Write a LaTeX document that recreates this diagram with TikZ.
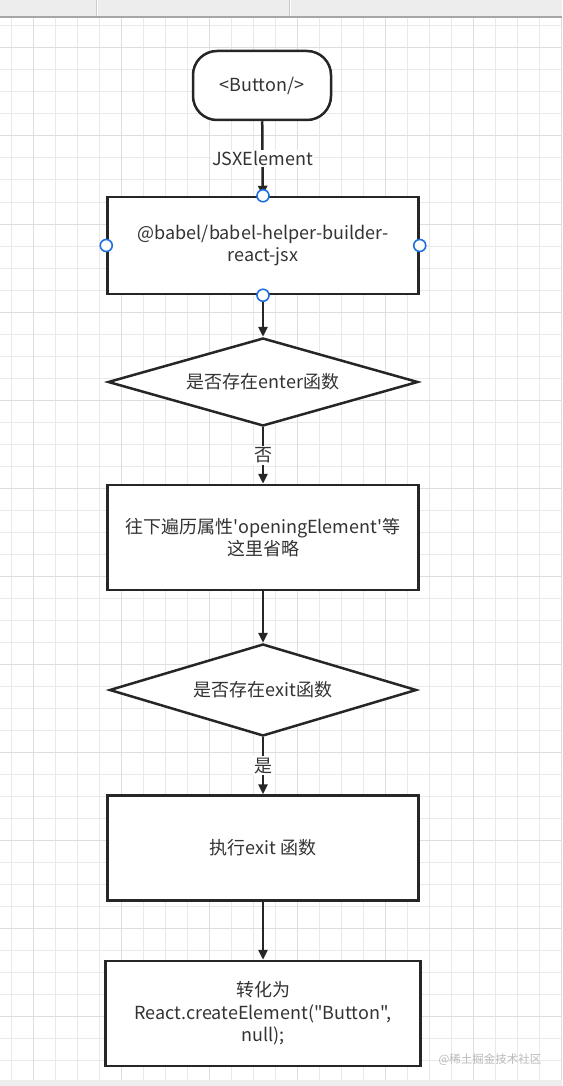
\documentclass[tikz,border=0pt]{standalone}
\usepackage{fontspec}
\setmainfont{Noto Sans CJK SC}[Ligatures=TeXOff]
\usepackage{xcolor}
\usetikzlibrary{shapes.geometric, positioning, arrows.meta}

\definecolor{ink}{HTML}{262626}
\definecolor{txt}{HTML}{333333}
\definecolor{gridln}{HTML}{E9E9E9}
\definecolor{gridmaj}{HTML}{DEDEDE}
\definecolor{bar}{HTML}{EDEDED}
\definecolor{handlec}{HTML}{1E6FE0}

\tikzset{
  base/.style={draw=ink, line width=2.5pt, fill=white, text=txt,
    font=\fontsize{18}{22.5}\selectfont, align=center},
  term/.style={base, rounded corners=24pt, minimum width=138pt, minimum height=69pt},
  proc/.style={base, minimum width=311pt, minimum height=105pt},
  cond/.style={base, diamond, aspect=3.5, minimum width=310pt, minimum height=88pt},
  lbl/.style={fill=white, text=txt, font=\fontsize{18}{20}\selectfont, inner sep=1.5pt},
  handle/.style={draw=handlec, fill=white, line width=1.6pt, circle,
    inner sep=0pt, minimum size=12pt},
}

\begin{document}
\begin{tikzpicture}[x=1pt,y=-1pt,->,>={Triangle[length=10pt,width=9pt]},line width=2.5pt,draw=ink]
    \useasboundingbox (0,0) rectangle (562,1086);

    % background grid and window bars
    \foreach \gx in {11,33,...,561} \draw[-,gridln,line width=1pt] (\gx,18) -- (\gx,1080);
    \foreach \gy in {26,48,...,1079} \draw[-,gridln,line width=1pt] (0,\gy) -- (562,\gy);
    \foreach \gx in {33,121,...,561} \draw[-,gridmaj,line width=1pt] (\gx,18) -- (\gx,1080);
    \foreach \gy in {48,136,...,1079} \draw[-,gridmaj,line width=1pt] (0,\gy) -- (562,\gy);
    \fill[bar] (0,0) rectangle (562,17);
    \draw[-,gray!70,line width=1.5pt] (0,17) -- (562,17);
    \draw[-,gray!40,line width=1pt] (96,0) -- (96,16) (289,0) -- (289,16);
    \draw[-,white,line width=1pt] (97.5,0) -- (97.5,16) (290.5,0) -- (290.5,16);
    \fill[bar] (0,1080) rectangle (562,1086);

    \node[term] (btn) at (262,85.5) {<Button/>};
    \node[proc, minimum height=97pt, node distance=160pt] (b1) [below of=btn, xshift=1pt] {@babel/babel-helper-builder-\\react-jsx};
    \node[cond, node distance=136.5pt] (d1) [below of=b1] {是否存在enter函数};
    \node[proc, node distance=155.5pt] (b2) [below of=d1] {往下遍历属性'openingElement'等\\这里省略};
    \node[cond, minimum height=92pt, minimum width=307pt, node distance=152.5pt] (d2) [below of=b2] {是否存在exit函数};
    \node[proc, node distance=158pt] (b3) [below of=d2] {执行exit 函数};
    \node[proc, minimum width=315pt, node distance=165.5pt] (b4) [below of=b3] {转化为\\React.createElement("Button",\\null);};

    \path (btn) edge node[lbl] {JSXElement} (b1)
          (b1) edge (d1)
          (d1) edge node[lbl] {否} (b2)
          (b2) edge (d2)
          (d2) edge node[lbl] {是} (b3)
          (b3) edge (b4);

    \foreach \a in {north,south,east,west}
        \node[handle] (h-\a) at (b1.\a) {};

    \node[text=gray!55, font=\fontsize{11.5}{13}\selectfont] (mark) at (490,1060) {@稀土掘金技术社区};
\end{tikzpicture}
\end{document}
